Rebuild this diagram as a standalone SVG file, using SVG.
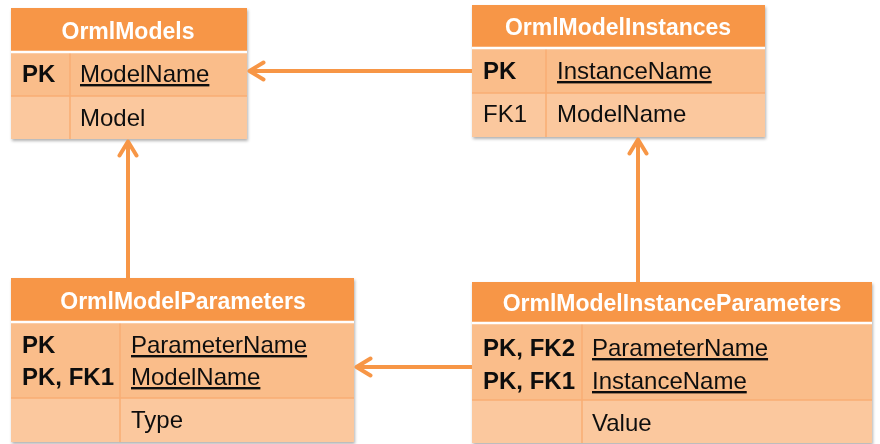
<svg xmlns="http://www.w3.org/2000/svg" width="880" height="444" viewBox="0 0 880 444">
<defs>
<filter id="sh" x="-5%" y="-5%" width="110%" height="115%">
<feDropShadow dx="1" dy="2" stdDeviation="1.5" flood-color="#000" flood-opacity="0.3"/>
</filter>
<marker id="arr" viewBox="0 0 20 22" refX="17.5" refY="11" markerWidth="20" markerHeight="22" markerUnits="userSpaceOnUse" orient="auto">
<path d="M3,2.5 L17,11 L3,19.5" fill="none" stroke="#F79646" stroke-width="4" stroke-linecap="round" stroke-linejoin="round"/>
</marker>
<style>
.hd{fill:#F79646}
.r1{fill:#FABD8A}
.r2{fill:#FBC89E}
.sep{stroke:#F9AE73;stroke-width:1.5}
.wl{stroke:#FFFFFF;stroke-width:2.5}
.ht{font-family:"Liberation Sans",Arial,sans-serif;font-weight:bold;font-size:23px;fill:#FFFFFF;text-anchor:middle}
.t{font-family:"Liberation Sans",Arial,sans-serif;font-size:24px;fill:#111111}
.b{font-weight:bold}
.u{text-decoration:underline}
.con{stroke:#F79646;stroke-width:4;fill:none;marker-end:url(#arr)}
</style>
</defs>
<g id="OrmlModels" filter="url(#sh)">
<rect class="hd" x="11" y="8" width="236" height="44"/>
<rect class="r1" x="11" y="52" width="236" height="44"/>
<rect class="r2" x="11" y="96" width="236" height="43"/>
<line class="sep" x1="11" y1="96" x2="247" y2="96"/>
<line class="sep" x1="70" y1="52" x2="70" y2="139"/>
<line class="wl" x1="11" y1="52" x2="247" y2="52"/>
<text class="ht" x="128" y="39">OrmlModels</text>
<text class="t b" x="22" y="82">PK</text>
<text class="t u" x="80" y="82">ModelName</text>
<text class="t" x="80" y="126">Model</text>
</g>
<g id="OrmlModelInstances" filter="url(#sh)">
<rect class="hd" x="472" y="5" width="293" height="43"/>
<rect class="r1" x="472" y="48" width="293" height="45"/>
<rect class="r2" x="472" y="93" width="293" height="44"/>
<line class="sep" x1="472" y1="93" x2="765" y2="93"/>
<line class="sep" x1="546" y1="48" x2="546" y2="137"/>
<line class="wl" x1="472" y1="48" x2="765" y2="48"/>
<text class="ht" x="618" y="35">OrmlModelInstances</text>
<text class="t b" x="483" y="79">PK</text>
<text class="t u" x="557" y="79">InstanceName</text>
<text class="t" x="483" y="122">FK1</text>
<text class="t" x="557" y="122">ModelName</text>
</g>
<g id="OrmlModelParameters" filter="url(#sh)">
<rect class="hd" x="11" y="278" width="343" height="44"/>
<rect class="r1" x="11" y="322" width="343" height="76"/>
<rect class="r2" x="11" y="398" width="343" height="44"/>
<line class="sep" x1="11" y1="398" x2="354" y2="398"/>
<line class="sep" x1="120" y1="322" x2="120" y2="442"/>
<line class="wl" x1="11" y1="322" x2="354" y2="322"/>
<text class="ht" x="183" y="309">OrmlModelParameters</text>
<text class="t b" x="22" y="353">PK</text>
<text class="t b" x="22" y="385">PK, FK1</text>
<text class="t u" x="131" y="353">ParameterName</text>
<text class="t u" x="131" y="385">ModelName</text>
<text class="t" x="131" y="428">Type</text>
</g>
<g id="OrmlModelInstanceParameters" filter="url(#sh)">
<rect class="hd" x="472" y="282" width="400" height="41"/>
<rect class="r1" x="472" y="323" width="400" height="77"/>
<rect class="r2" x="472" y="400" width="400" height="43"/>
<line class="sep" x1="472" y1="400" x2="872" y2="400"/>
<line class="sep" x1="582" y1="323" x2="582" y2="443"/>
<line class="wl" x1="472" y1="323" x2="872" y2="323"/>
<text class="ht" x="672" y="311">OrmlModelInstanceParameters</text>
<text class="t b" x="483" y="356">PK, FK2</text>
<text class="t b" x="483" y="389">PK, FK1</text>
<text class="t u" x="592" y="356">ParameterName</text>
<text class="t u" x="592" y="389">InstanceName</text>
<text class="t" x="592" y="431">Value</text>
</g>
<g id="connectors">
<line class="con" x1="472" y1="71" x2="249" y2="71"/>
<line class="con" x1="128" y1="278" x2="128" y2="141"/>
<line class="con" x1="638" y1="282" x2="638" y2="139"/>
<line class="con" x1="472" y1="367" x2="356" y2="367"/>
</g>
</svg>
